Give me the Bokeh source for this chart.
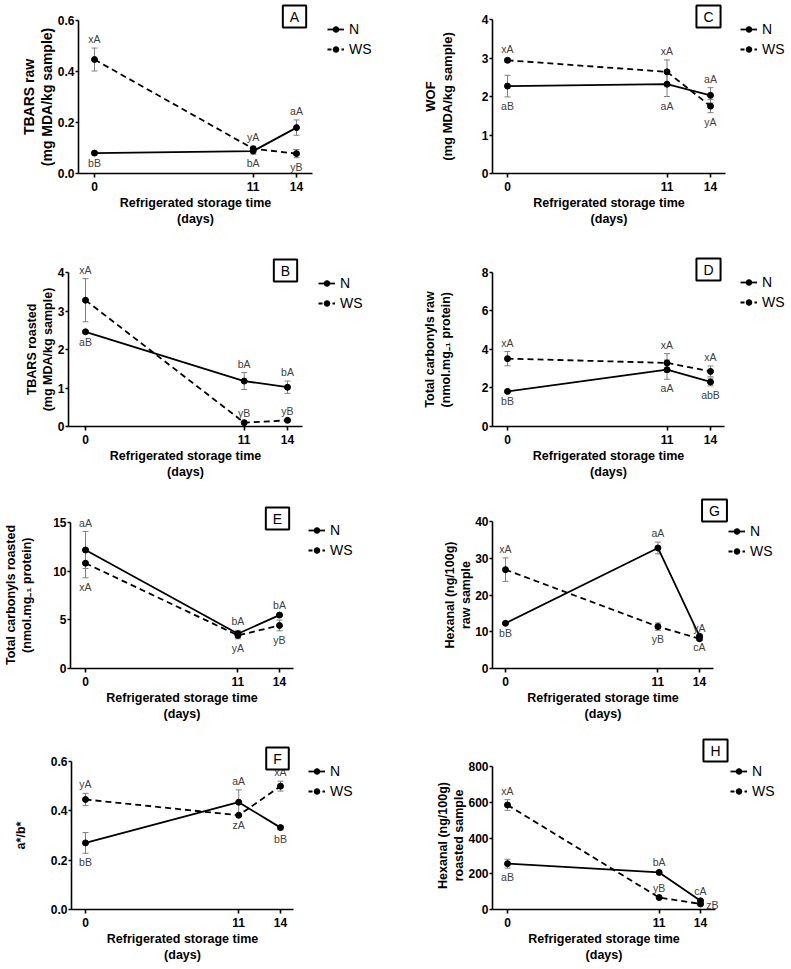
from bokeh.plotting import figure
from bokeh.models import (ColumnDataSource, Whisker, TeeHead, Legend, LegendItem,
                          Label, LabelSet, FixedTicker, PrintfTickFormatter, Title)
from bokeh.layouts import column, row
from bokeh.embed import file_html
from bokeh.resources import INLINE
from bokeh.core.properties import value

# ---------------- data ----------------
days = [0, 11, 14]
x_tick_values = [0, 11, 14]
series_names = ["N", "WS"]
x_title_lines = ["Refrigerated storage time", "(days)"]

# A  TBARS raw
tbars_raw_n = [0.080, 0.088, 0.180]
tbars_raw_n_err = [0.004, 0.012, 0.030]
tbars_raw_ws = [0.447, 0.097, 0.078]
tbars_raw_ws_err = [0.045, 0.010, 0.016]
tbars_raw_n_lab = ["bB", "bA", "aA"]
tbars_raw_ws_lab = ["xA", "yA", "yB"]

# C  WOF
wof_n = [2.27, 2.32, 2.03]
wof_n_err = [0.28, 0.32, 0.20]
wof_ws = [2.94, 2.64, 1.75]
wof_ws_err = [0.05, 0.31, 0.17]
wof_n_lab = ["aB", "aA", "aA"]
wof_ws_lab = ["xA", "xA", "yA"]

# B  TBARS roasted
tbars_ro_n = [2.46, 1.18, 1.02]
tbars_ro_n_err = [0.04, 0.22, 0.16]
tbars_ro_ws = [3.28, 0.10, 0.16]
tbars_ro_ws_err = [0.56, 0.02, 0.02]
tbars_ro_n_lab = ["aB", "bA", "bA"]
tbars_ro_ws_lab = ["xA", "yB", "yB"]

# D  Total carbonyls raw
carb_raw_n = [1.82, 2.95, 2.31]
carb_raw_n_err = [0.05, 0.50, 0.20]
carb_raw_ws = [3.52, 3.30, 2.86]
carb_raw_ws_err = [0.37, 0.48, 0.28]
carb_raw_n_lab = ["bB", "aA", "abB"]
carb_raw_ws_lab = ["xA", "xA", "xA"]

# E  Total carbonyls roasted
carb_ro_n = [12.2, 3.58, 5.50]
carb_ro_n_err = [1.9, 0.35, 0.12]
carb_ro_ws = [10.84, 3.41, 4.43]
carb_ro_ws_err = [1.5, 0.35, 0.55]
carb_ro_n_lab = ["aA", "bA", "bA"]
carb_ro_ws_lab = ["xA", "yA", "yB"]

# G  Hexanal raw
hex_raw_n = [12.3, 32.8, 8.8]
hex_raw_n_err = [0.3, 1.6, 0.4]
hex_raw_ws = [26.9, 11.4, 8.1]
hex_raw_ws_err = [3.2, 1.0, 0.5]
hex_raw_n_lab = ["bB", "aA", "cA"]
hex_raw_ws_lab = ["xA", "yB", "yA"]

# F  a*/b*
ab_n = [0.270, 0.435, 0.332]
ab_n_err = [0.042, 0.050, 0.008]
ab_ws = [0.446, 0.382, 0.500]
ab_ws_err = [0.025, 0.004, 0.020]
ab_n_lab = ["bB", "aA", "bB"]
ab_ws_lab = ["yA", "zA", "xA"]

# H  Hexanal roasted
hex_ro_n = [257, 208, 49]
hex_ro_n_err = [25, 8, 5]
hex_ro_ws = [586, 67, 31]
hex_ro_ws_err = [30, 5, 5]
hex_ro_n_lab = ["aB", "bA", "cA"]
hex_ro_ws_lab = ["xA", "yB", "zB"]

# ---------------- styling / layout ----------------
FONT = "Liberation Sans"
ERR_COLOR = "#808080"
LAB_COLOR = "#404040"
SUB = "\u208b\u2081"
NAN = float("nan")

# Arial/Liberation Sans Bold advance widths (per 1000 em) for centring titles
BOLD_W = {" ": 278, "(": 333, ")": 333, "*": 389, ".": 278, "/": 278, "0": 556,
          "1": 556, "A": 722, "B": 722, "D": 722, "F": 611, "H": 722, "M": 833,
          "O": 778, "R": 722, "S": 667, "T": 611, "W": 944, "a": 556, "b": 611,
          "c": 556, "d": 611, "e": 556, "f": 333, "g": 611, "h": 611, "i": 278,
          "k": 556, "l": 278, "m": 889, "n": 611, "o": 611, "p": 611, "r": 389,
          "s": 556, "t": 333, "w": 778, "x": 556, "y": 556}


def text_width(t, size):
    return sum(BOLD_W.get(ch, 420) for ch in t) * size / 1000.0


# geom: (fig_left, fig_top, fig_w, fig_h, axis_left, axis_right, axis_top, axis_bottom)
panels = {
    "A": dict(ylines=["TBARS raw", "(mg MDA/kg sample)"], ylsize=14, ygap=0,
              n=(tbars_raw_n, tbars_raw_n_err, tbars_raw_n_lab, "bba"),
              ws=(tbars_raw_ws, tbars_raw_ws_err, tbars_raw_ws_lab, "aab"),
              yticks=[0, 0.2, 0.4, 0.6], fmt="%.1f", ymax=0.6,
              geom=(0, 0, 395, 236, 78, 312, 20, 173), x0=94, x14=296,
              leg=(249, 116), box=(216, 157)),
    "C": dict(ylines=["WOF", "(mg MDA/kg sample)"], ylsize=13, ygap=24,
              n=(wof_n, wof_n_err, wof_n_lab, "bba"),
              ws=(wof_ws, wof_ws_err, wof_ws_lab, "aab"),
              yticks=[0, 1, 2, 3, 4], fmt="%d", ymax=4,
              geom=(395, 0, 396, 236, 492, 725, 19, 173), x0=507, x14=710,
              leg=(248, 116), box=(216, 157)),
    "B": dict(ylines=["TBARS roasted", "(mg MDA/kg sample)"], ylsize=12.5, ygap=0,
              n=(tbars_ro_n, tbars_ro_n_err, tbars_ro_n_lab, "baa"),
              ws=(tbars_ro_ws, tbars_ro_ws_err, tbars_ro_ws_lab, "aaa"),
              yticks=[0, 1, 2, 3, 4], fmt="%d", ymax=4,
              geom=(0, 236, 395, 244, 68, 302, 272, 426), x0=85, x14=287,
              leg=(250, 115), box=(217, 156)),
    "D": dict(ylines=["Total carbonyls raw", "(nmol.mg" + SUB + " protein)"], ylsize=12.5, ygap=26,
              n=(carb_raw_n, carb_raw_n_err, carb_raw_n_lab, "bbb"),
              ws=(carb_raw_ws, carb_raw_ws_err, carb_raw_ws_lab, "aaa"),
              yticks=[0, 2, 4, 6, 8], fmt="%d", ymax=8,
              geom=(395, 236, 396, 244, 492, 724, 272, 427), x0=507, x14=710,
              leg=(248, 116), box=(216, 157)),
    "E": dict(ylines=["Total carbonyls roasted", "(nmol.mg" + SUB + " protein)"], ylsize=12.5, ygap=17,
              n=(carb_ro_n, carb_ro_n_err, carb_ro_n_lab, "aaa"),
              ws=(carb_ro_ws, carb_ro_ws_err, carb_ro_ws_lab, "bbb"),
              yticks=[0, 5, 10, 15], fmt="%d", ymax=15,
              geom=(0, 480, 395, 242, 70, 293, 523, 671), x0=85, x14=279,
              leg=(238, 110), box=(207, 150)),
    "G": dict(ylines=["Hexanal (ng/100g)", "raw sample"], ylsize=12.5, ygap=3,
              n=(hex_raw_n, hex_raw_n_err, hex_raw_n_lab, "bab"),
              ws=(hex_raw_ws, hex_raw_ws_err, hex_raw_ws_lab, "aba"),
              yticks=[0, 10, 20, 30, 40], fmt="%d", ymax=40,
              geom=(395, 480, 396, 242, 492, 713, 521, 668), x0=505, x14=699,
              leg=(236, 109), box=(222, 158)),
    "F": dict(ylines=["a*/b*"], ylsize=12.5, ygap=20,
              n=(ab_n, ab_n_err, ab_n_lab, "bab"),
              ws=(ab_ws, ab_ws_err, ab_ws_lab, "aba"),
              yticks=[0, 0.2, 0.4, 0.6], fmt="%.1f", ymax=0.6,
              geom=(0, 722, 395, 246, 71, 293, 761, 909), x0=85, x14=280,
              leg=(237, 110), box=(206, 151)),
    "H": dict(ylines=["Hexanal (ng/100g)", "roasted sample"], ylsize=12.5, ygap=0,
              n=(hex_ro_n, hex_ro_n_err, hex_ro_n_lab, "baa"),
              ws=(hex_ro_ws, hex_ro_ws_err, hex_ro_ws_lab, "aar"),
              yticks=[0, 200, 400, 600, 800], fmt="%d", ymax=800,
              geom=(395, 722, 396, 246, 492, 715, 768, 916), x0=507, x14=700,
              leg=(238, 110), box=(223, 159)),
}


def add_point_labels(p, vals, errs, labs, places):
    xs, ys, xo, yo = [], [], [], []
    for x, v, e, pl in zip(days, vals, errs, places):
        xs.append(x)
        if pl == "a":
            ys.append(v + e); xo.append(0); yo.append(9)
        elif pl == "b":
            ys.append(v - e); xo.append(0); yo.append(-9)
        else:
            ys.append(v); xo.append(12); yo.append(-1)
    src = ColumnDataSource(dict(x=xs, y=ys, t=list(labs), xo=xo, yo=yo))
    ls = LabelSet(x="x", y="y", text="t", x_offset="xo", y_offset="yo", source=src,
                  text_align="center", text_baseline="middle",
                  text_font=value(FONT), text_font_size="10.5px", text_color=LAB_COLOR)
    p.add_layout(ls)


def add_errors(p, vals, errs):
    src = ColumnDataSource(dict(base=days,
                                upper=[v + e for v, e in zip(vals, errs)],
                                lower=[v - e for v, e in zip(vals, errs)]))
    w = Whisker(source=src, base="base", upper="upper", lower="lower",
                dimension="height", line_color=ERR_COLOR, line_width=1,
                upper_head=TeeHead(size=6, line_color=ERR_COLOR, line_width=1),
                lower_head=TeeHead(size=6, line_color=ERR_COLOR, line_width=1),
                level="underlay")
    p.add_layout(w)


def make_title(text, size, offset, standoff=0):
    return Title(text=text, align="left", offset=offset, standoff=standoff,
                 text_font=FONT, text_font_size=f"{size}px", text_font_style="bold",
                 text_color="black")


def make_panel(letter):
    c = panels[letter]
    ox, oy, W, H, L, R, T, B = c["geom"]
    s = (c["x14"] - c["x0"]) / 14.0
    x_start = -(c["x0"] - L) / s
    x_axis_end = 14 + (R - c["x14"]) / s
    x_end = 14 + (ox + W - c["x14"]) / s
    ymax = c["ymax"]
    y_end = ymax + (T - oy) * ymax / (B - T)
    p = figure(width=W, height=H, x_range=(x_start, x_end), y_range=(0, y_end),
               title=None,
               min_border_left=L - ox, min_border_right=0,
               min_border_top=0, min_border_bottom=oy + H - B,
               output_backend="svg", toolbar_location=None)
    p.xgrid.visible = False
    p.ygrid.visible = False
    p.outline_line_color = None
    p.background_fill_color = "white"
    p.border_fill_color = "white"

    p.xaxis.ticker = FixedTicker(ticks=x_tick_values)
    p.yaxis.ticker = FixedTicker(ticks=c["yticks"])
    p.yaxis.formatter = PrintfTickFormatter(format=c["fmt"])
    p.xaxis.bounds = (x_start, x_axis_end)
    p.yaxis.bounds = (0, ymax)
    for ax in (p.xaxis[0], p.yaxis[0]):
        ax.axis_line_width = 1.6
        ax.axis_line_color = "black"
        ax.major_tick_line_width = 1.6
        ax.major_tick_line_color = "black"
        ax.major_tick_in = 0
        ax.minor_tick_line_color = None
        ax.major_label_text_font = FONT
        ax.major_label_text_font_style = "bold"
        ax.major_label_text_font_size = "12px"
        ax.major_label_text_color = "black"
    p.xaxis.major_tick_out = 4
    p.yaxis.major_tick_out = 3
    p.xaxis.major_label_standoff = 4
    p.yaxis.major_label_standoff = 1

    # x-axis title: two centred lines under the axis
    xc = (R - L) / 2.0
    for line in x_title_lines:
        p.add_layout(make_title(line, 12.5, xc - text_width(line, 12.5) / 2.0), "below")
    # y-axis title: optional gap, then lines stacked outward (last line next to the axis)
    if c["ygap"] > 3:
        p.add_layout(Title(text=" ", text_font_size="1px", standoff=c["ygap"] - 3), "left")
    yc = (B - T) / 2.0
    for line in reversed(c["ylines"]):
        p.add_layout(make_title(line, c["ylsize"], yc - text_width(line, c["ylsize"]) / 2.0), "left")

    renderers = []
    for key, dash in (("n", "solid"), ("ws", "6 4")):
        vals, errs, labs, places = c[key]
        add_errors(p, vals, errs)
        p.line(days, vals, line_color="black", line_width=1.8, line_dash=dash)
        sc = p.scatter(days, vals, marker="circle", size=6, fill_color="black",
                       line_color="black")
        add_point_labels(p, vals, errs, labs, places)
        # legend-only line sample (not drawn in the plot), finer dash so it reads as dashed
        lg = p.line([NAN], [NAN], line_color="black", line_width=1.8,
                    line_dash="solid" if dash == "solid" else "4 3")
        renderers.append((lg, sc))

    items = [LegendItem(label=nm, renderers=list(rr)) for nm, rr in zip(series_names, renderers)]
    leg = Legend(items=items, location=c["leg"], orientation="vertical",
                 glyph_width=17, glyph_height=14, label_height=14, label_standoff=5,
                 spacing=4, padding=0, margin=0, border_line_color=None,
                 background_fill_alpha=0, label_text_font=FONT,
                 label_text_font_size="14px", label_text_color="black")
    p.add_layout(leg)

    bx, by = c["box"]
    p.add_layout(Label(x=bx, y=by, x_units="screen", y_units="screen", text=letter,
                       text_align="center", text_baseline="middle",
                       text_font=FONT, text_font_size="14px", text_color="black",
                       border_line_color="black", border_line_width=2,
                       background_fill_color="white", padding=(7, 3)))
    return p


layout = column(
    row(make_panel("A"), make_panel("C")),
    row(make_panel("B"), make_panel("D")),
    row(make_panel("E"), make_panel("G")),
    row(make_panel("F"), make_panel("H")),
)

open("out.html", "w").write(file_html(layout, INLINE))
